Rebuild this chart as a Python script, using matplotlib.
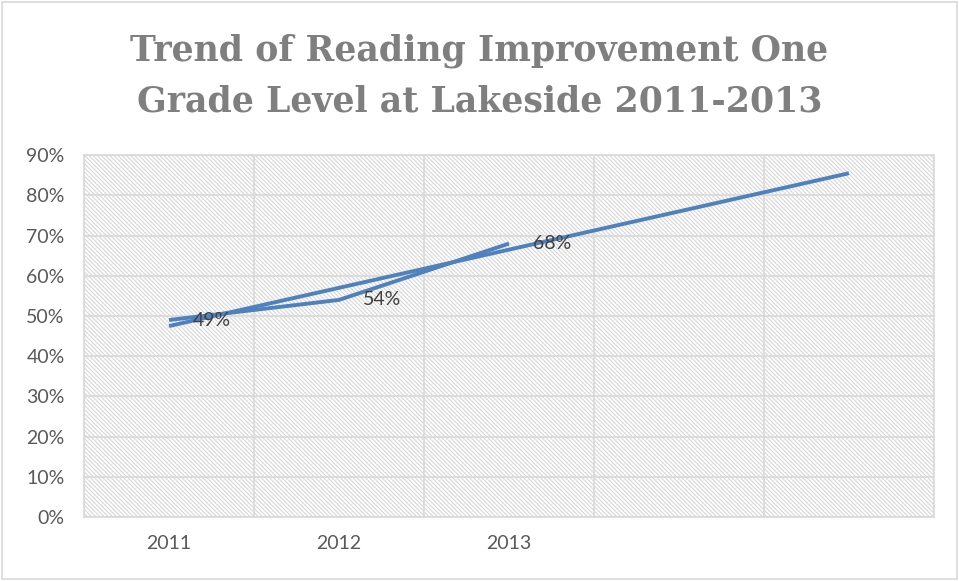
import matplotlib
matplotlib.use("Agg")
import matplotlib.pyplot as plt
import numpy as np
from matplotlib.patches import Rectangle
from matplotlib.ticker import PercentFormatter, FixedLocator

# data
years = ['2011', '2012', '2013']
reading = [0.49, 0.54, 0.68]
n_forward = 2          # trendline forecast periods

plt.rcParams['font.family'] = ['Lato', 'DejaVu Sans']
plt.rcParams['hatch.color'] = '#d6d6d6'
plt.rcParams['hatch.linewidth'] = 0.8

fig = plt.figure(figsize=(9.59, 5.81), dpi=100)
ax = fig.add_axes([0.0876, 0.110, 0.8863, 0.623])

x = np.arange(len(years))
# linear trendline, like the excel one
slope, icpt = np.polyfit(x, reading, 1)
xt = np.arange(len(years) + n_forward)
trend = slope * xt + icpt

ax.add_patch(Rectangle((0, 0), 1, 1, transform=ax.transAxes, facecolor='white',
                       hatch='\\' * 8, edgecolor='#d6d6d6', linewidth=0, zorder=0))

ax.plot(x, reading, color='#4f81bd', lw=2.8, zorder=3, solid_capstyle='butt')
ax.plot(xt, trend, color='#4f81bd', lw=2.8, zorder=3, solid_capstyle='butt')

for xi, v in zip(x, reading):
    ax.annotate(f'{v:.0%}', (xi, v), xytext=(17, 0), textcoords='offset points',
                ha='left', va='center', fontsize=14, color='#404040', zorder=4)

ax.set_xlim(-0.5, len(xt) - 0.5)
ax.set_ylim(0, 0.9)
ax.set_xticks(xt)
ax.set_xticklabels(years + [''] * n_forward)
ax.xaxis.set_minor_locator(FixedLocator(np.arange(-0.5, len(xt), 1)))
ax.yaxis.set_major_locator(FixedLocator(np.arange(0, 0.91, 0.1)))
ax.yaxis.set_major_formatter(PercentFormatter(1.0, decimals=0))

ax.grid(axis='y', which='major', color='#d9d9d9', lw=1.2, zorder=1)
ax.grid(axis='x', which='minor', color='#d9d9d9', lw=1.2, zorder=1)
ax.set_axisbelow(True)
ax.tick_params(which='both', length=0, labelsize=14, labelcolor='#595959')
ax.tick_params(axis='y', pad=14)
ax.tick_params(axis='x', pad=13)
for s in ax.spines.values():
    s.set_color('#d9d9d9')
    s.set_linewidth(1.2)

fig.text(0.5, 0.912, 'Trend of Reading Improvement One', ha='center', va='center',
         fontsize=25, fontweight='bold', color='#7f7f7f', family=['DejaVu Serif'])
fig.text(0.5, 0.826, 'Grade Level at Lakeside 2011-2013', ha='center', va='center',
         fontsize=25, fontweight='bold', color='#7f7f7f', family=['DejaVu Serif'])

fig.add_artist(Rectangle((0.002, 0.003), 0.996, 0.994, transform=fig.transFigure,
                         fill=False, edgecolor='#d9d9d9', lw=1.2))

fig.savefig('out.png', dpi=100)
